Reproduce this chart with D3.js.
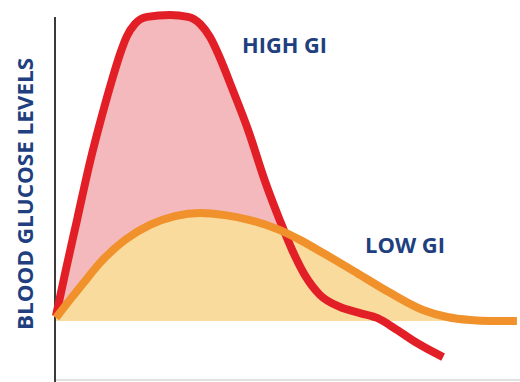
<!DOCTYPE html>
<html>
<head>
<meta charset="utf-8">
<script src="https://cdn.jsdelivr.net/npm/d3@7"></script>
<style>
  html, body { margin: 0; padding: 0; background: #fff; }
  svg { display: block; }
</style>
</head>
<body>
<svg id="chart" width="520" height="382"></svg>
<script>
// Time (arbitrary units) and blood glucose (relative units, 0 = fasting baseline)
const highGITime  = [0.3, 3.5, 7.1, 11.3, 15.2, 18.4, 21, 23.2, 25.8, 29.7, 37.1, 42.9, 46.8, 50, 53.2, 57.1, 62.3, 67.7, 72.6, 76.5, 80.6, 85.5, 91.9, 98.4, 103.9, 110.3, 116.8, 125.2];
const highGIValue = [1.6, 16.7, 33, 52, 67.3, 78.8, 87.3, 93.1, 97.1, 99.4, 100, 99.4, 97.1, 92.8, 86, 76.1, 62.4, 45.8, 32.7, 23.2, 15, 8.5, 4.6, 2.6, 1, -2.9, -7.2, -11.8];
const lowGITime   = [0.3, 4.8, 9.7, 14.5, 22.6, 30.6, 38.7, 46.8, 54.8, 62.9, 72.6, 79, 86.5, 97.4, 108.1, 118.7, 126.5, 133.9, 140.3, 149];
const lowGIValue  = [1, 6.9, 13.1, 19, 26.5, 31.4, 34.3, 35.3, 34.6, 33, 29.7, 26.5, 22.2, 15.7, 9.2, 3.6, 1.3, 0.3, 0, 0];
const seriesLabels = ["HIGH GI", "LOW GI"];
const yAxisLabel = "BLOOD GLUCOSE LEVELS";

const svg = d3.select("#chart");
const x = d3.scaleLinear().domain([0, 150]).range([55, 520]);
const y = d3.scaleLinear().domain([0, 100]).range([321, 15]);

const high = highGITime.map((t, i) => ({t, v: highGIValue[i]}));
const low = lowGITime.map((t, i) => ({t, v: lowGIValue[i]}));

svg.append("defs").append("clipPath").attr("id", "above")
  .append("rect").attr("x", x(0)).attr("y", 0).attr("width", 520).attr("height", y(0));

const curve = d3.curveMonotoneX;
const area = d3.area().x(d => x(d.t)).y0(y(0)).y1(d => y(d.v)).curve(curve);
const line = d3.line().x(d => x(d.t)).y(d => y(d.v)).curve(curve);

svg.append("path").datum(high).attr("d", area).attr("fill", "#f3b9bc").attr("clip-path", "url(#above)");
svg.append("path").datum(low).attr("d", area).attr("fill", "#f9dc9d").attr("clip-path", "url(#above)");

// axes
svg.append("line").attr("x1", 55).attr("x2", 520).attr("y1", 380).attr("y2", 380)
  .attr("stroke", "#c4c4c4").attr("stroke-width", 1);
svg.append("line").attr("x1", 55).attr("x2", 55).attr("y1", 17).attr("y2", 382)
  .attr("stroke", "#3a3a3a").attr("stroke-width", 2);

svg.append("path").datum(high).attr("d", line).attr("fill", "none")
  .attr("stroke", "#e21f26").attr("stroke-width", 8).attr("stroke-linejoin", "round");
svg.append("path").datum(low).attr("d", line).attr("fill", "none")
  .attr("stroke", "#f0912b").attr("stroke-width", 8).attr("stroke-linejoin", "round");

const textColor = "#213f7f";
const font = "'Open Sans', 'DejaVu Sans', sans-serif";
svg.append("text").attr("x", 242).attr("y", 53).text(seriesLabels[0])
  .attr("font-family", font).attr("font-weight", 700).attr("font-size", 21)
  .attr("fill", textColor).attr("textLength", 85).attr("lengthAdjust", "spacingAndGlyphs");
svg.append("text").attr("x", 365).attr("y", 253).text(seriesLabels[1])
  .attr("font-family", font).attr("font-weight", 700).attr("font-size", 21)
  .attr("fill", textColor).attr("textLength", 80).attr("lengthAdjust", "spacingAndGlyphs");
svg.append("text").attr("transform", "translate(33,194) rotate(-90)")
  .attr("text-anchor", "middle").text(yAxisLabel)
  .attr("font-family", font).attr("font-weight", 700).attr("font-size", 21)
  .attr("fill", textColor).attr("textLength", 272).attr("lengthAdjust", "spacingAndGlyphs");
</script>
</body>
</html>
